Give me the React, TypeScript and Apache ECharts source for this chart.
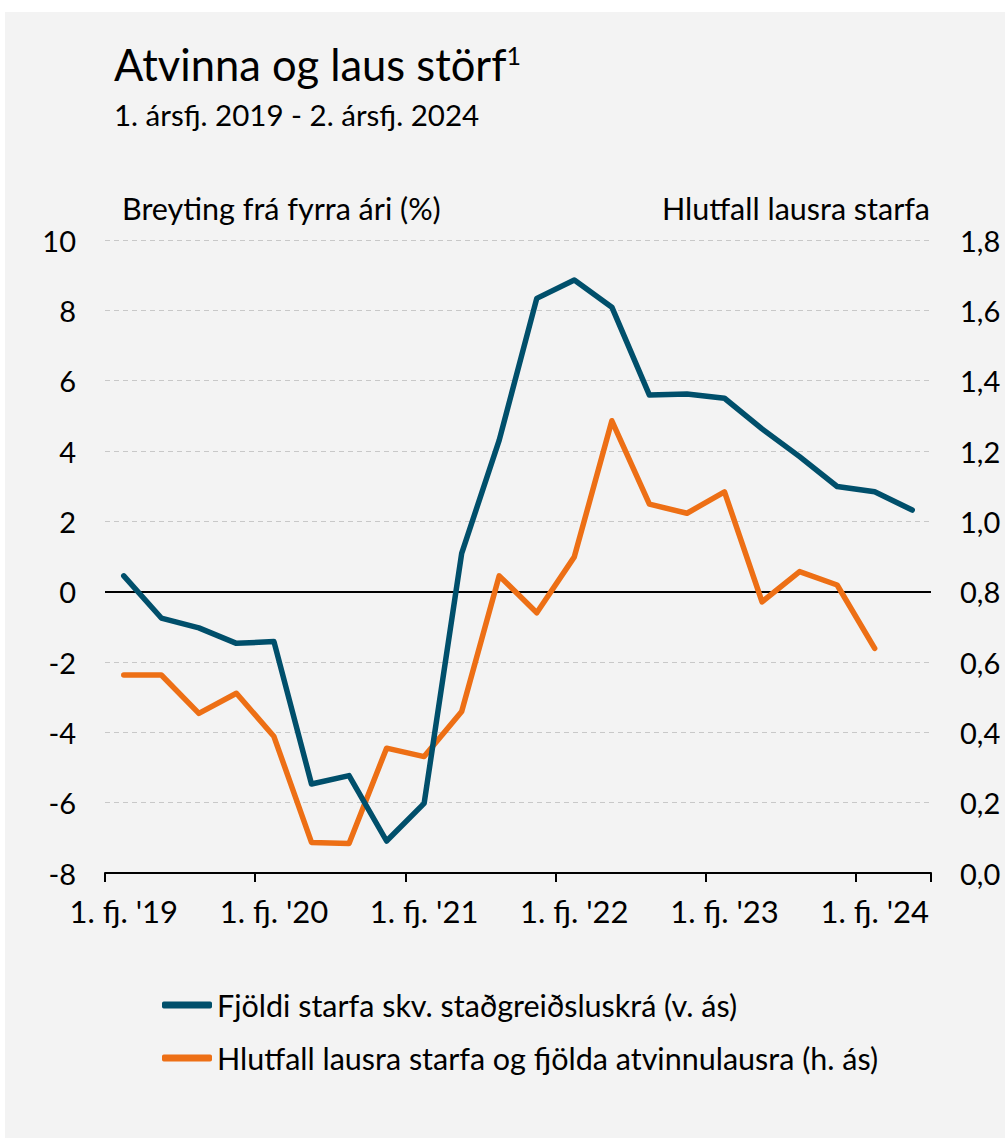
import React, { useEffect, useRef } from "react";
import * as echarts from "echarts";

const quarters = [
  "1. fj. '19", "2. fj. '19", "3. fj. '19", "4. fj. '19",
  "1. fj. '20", "2. fj. '20", "3. fj. '20", "4. fj. '20",
  "1. fj. '21", "2. fj. '21", "3. fj. '21", "4. fj. '21",
  "1. fj. '22", "2. fj. '22", "3. fj. '22", "4. fj. '22",
  "1. fj. '23", "2. fj. '23", "3. fj. '23", "4. fj. '23",
  "1. fj. '24", "2. fj. '24",
];

// Fjöldi starfa skv. staðgreiðsluskrá (v. ás), % breyting frá fyrra ári
const jobsChange = [
  0.45, -0.75, -1.03, -1.47, -1.42, -5.47, -5.23, -7.09, -6.02, 1.09, 4.31,
  8.34, 8.86, 8.09, 5.59, 5.62, 5.5, 4.63, 3.84, 2.99, 2.84, 2.32,
];

// Hlutfall lausra starfa og fjölda atvinnulausra (h. ás)
const vacancyRatio = [
  0.563, 0.563, 0.454, 0.511, 0.388, 0.087, 0.084, 0.355, 0.331, 0.459, 0.845,
  0.74, 0.899, 1.286, 1.049, 1.023, 1.084, 0.771, 0.857, 0.819, 0.639, null,
];

const leftTicks = { min: -8, max: 10, interval: 2 };
const rightTicks = { min: 0, max: 1.8, interval: 0.2 };

const FONT = "Lato";

export default function App() {
  const ref = useRef<HTMLDivElement>(null);

  useEffect(() => {
    if (!ref.current) return;
    const chart = echarts.init(ref.current, undefined, { renderer: "svg" });
    chart.setOption({
      animation: false,
      backgroundColor: "#ffffff",
      textStyle: { fontFamily: FONT, color: "#000" },
      graphic: [
        {
          type: "rect",
          z: -10,
          silent: true,
          shape: { x: 5, y: 12, width: 1000, height: 1126 },
          style: { fill: "#f3f3f3" },
        },
        {
          type: "text",
          left: 114,
          top: 42,
          style: {
            text: "{a|Atvinna og laus störf}{s|1}",
            rich: {
              a: { fontFamily: FONT, fontSize: 43.5, fill: "#000", verticalAlign: "bottom" },
              s: { fontFamily: FONT, fontSize: 25, fill: "#000", verticalAlign: "top" },
            },
          },
        },
        {
          type: "text",
          left: 114,
          top: 99,
          style: { text: "1. ársfj. 2019 - 2. ársfj. 2024", fontFamily: FONT, fontSize: 29.5, fill: "#000" },
        },
        {
          type: "text",
          left: 122,
          top: 192,
          style: { text: "Breyting frá fyrra ári (%)", fontFamily: FONT, fontSize: 30.5, fill: "#000" },
        },
        {
          type: "text",
          right: 75,
          top: 192,
          style: { text: "Hlutfall lausra starfa", fontFamily: FONT, fontSize: 30.5, fill: "#000" },
        },
      ],
      grid: { left: 105, right: 74, top: 240, bottom: 265 },
      legend: {
        orient: "vertical",
        left: 157,
        top: 984,
        itemWidth: 50,
        itemHeight: 7,
        itemGap: 21,
        icon: "roundRect",
        textStyle: { fontFamily: FONT, fontSize: 30.5, color: "#000", lineHeight: 32 },
        data: [
          "Fjöldi starfa skv. staðgreiðsluskrá (v. ás)",
          "Hlutfall lausra starfa og fjölda atvinnulausra (h. ás)",
        ],
      },
      xAxis: {
        type: "category",
        data: quarters,
        boundaryGap: true,
        axisLine: { show: true, onZero: false, lineStyle: { color: "#000", width: 2 } },
        axisTick: { show: true, alignWithLabel: false, interval: 3, length: 9, lineStyle: { color: "#000", width: 2 } },
        axisLabel: { interval: 3, margin: 22, fontFamily: FONT, fontSize: 31, color: "#000" },
        splitLine: { show: false },
      },
      yAxis: [
        {
          type: "value",
          position: "left",
          ...leftTicks,
          axisLine: { show: false },
          axisTick: { show: false },
          axisLabel: { margin: 29, fontFamily: FONT, fontSize: 29, color: "#000" },
          splitLine: { show: true, lineStyle: { color: "#c8c8c8", type: [5, 4], width: 1 } },
        },
        {
          type: "value",
          position: "right",
          ...rightTicks,
          axisLine: { show: false },
          axisTick: { show: false },
          axisLabel: {
            margin: 29,
            fontFamily: FONT,
            fontSize: 29,
            color: "#000",
            formatter: (v: number) => v.toFixed(1).replace(".", ","),
          },
          splitLine: { show: false },
        },
      ],
      series: [
        {
          name: "Fjöldi starfa skv. staðgreiðsluskrá (v. ás)",
          type: "line",
          yAxisIndex: 0,
          data: jobsChange,
          showSymbol: false,
          symbol: "none",
          color: "#004f6b",
          lineStyle: { color: "#004f6b", width: 5.5, cap: "round", join: "round" },
          z: 3,
          markLine: {
            silent: true,
            symbol: ["none", "none"],
            label: { show: false },
            lineStyle: { color: "#000", width: 2, type: "solid" },
            data: [{ yAxis: 0 }],
            z: 1,
          },
        },
        {
          name: "Hlutfall lausra starfa og fjölda atvinnulausra (h. ás)",
          type: "line",
          yAxisIndex: 1,
          data: vacancyRatio,
          showSymbol: false,
          symbol: "none",
          color: "#ed6f15",
          lineStyle: { color: "#ed6f15", width: 5.5, cap: "round", join: "round" },
          z: 2,
        },
      ],
    });
    return () => chart.dispose();
  }, []);

  return (
    <div
      ref={ref}
      style={{ position: "absolute", left: 0, top: 0, width: 1005, height: 1138 }}
    />
  );
}
